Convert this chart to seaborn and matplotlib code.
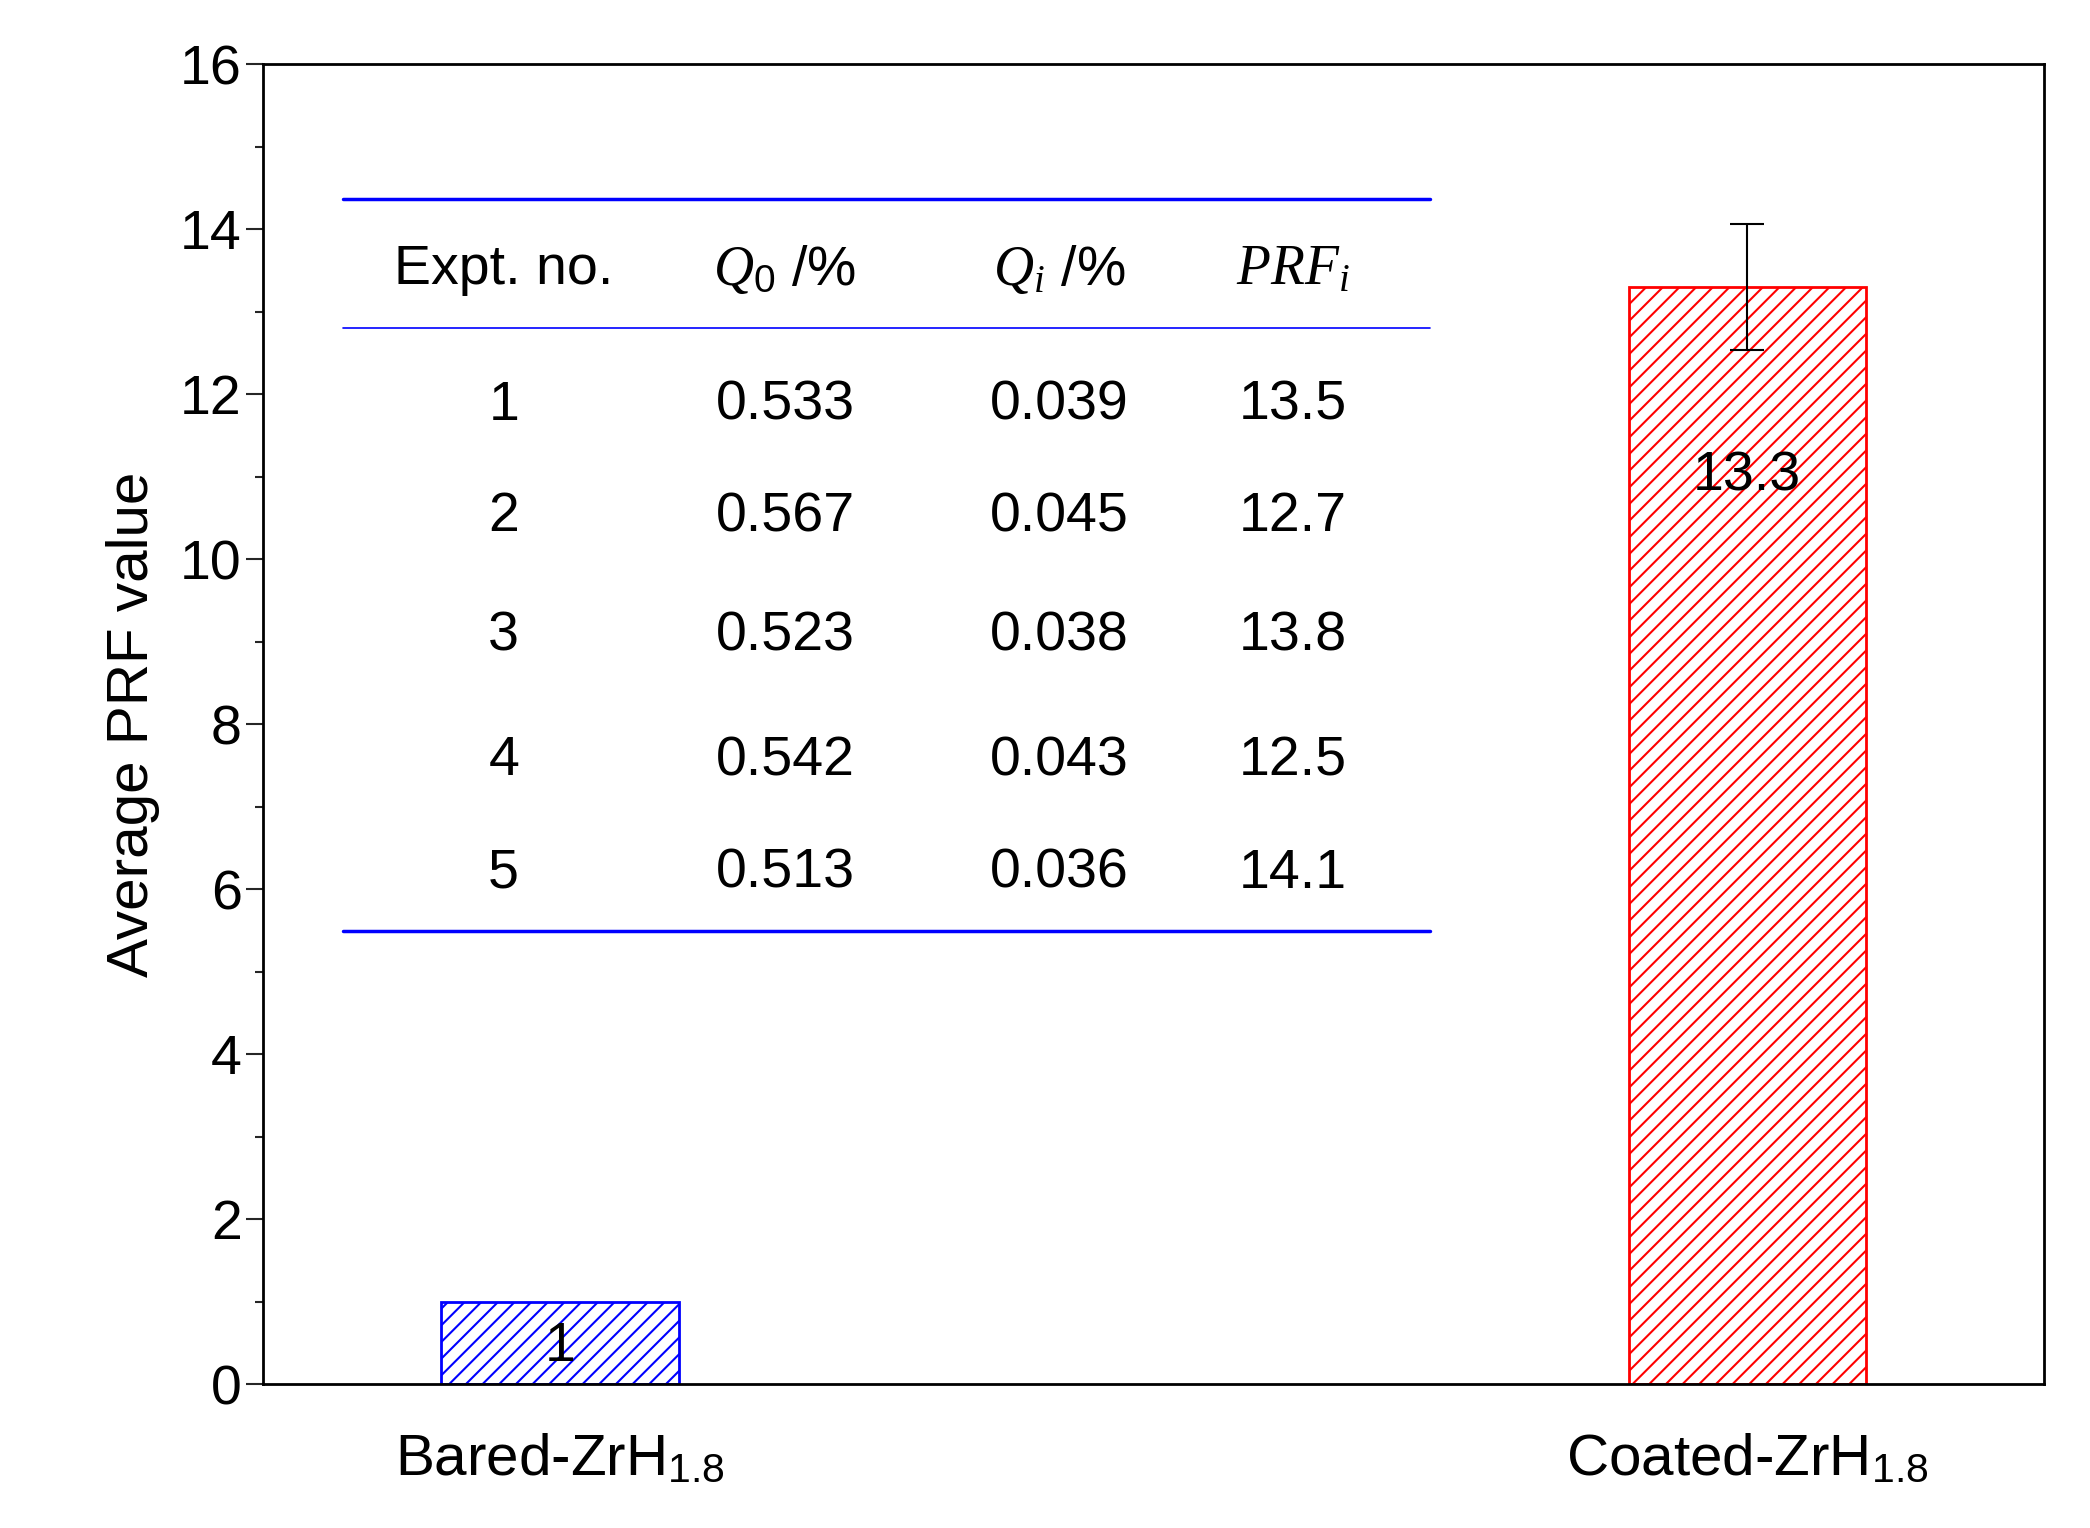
import matplotlib
matplotlib.use("Agg")
import matplotlib.pyplot as plt
import seaborn as sns
import pandas as pd

# bar data
samples = ["Bared-ZrH$_{1.8}$", "Coated-ZrH$_{1.8}$"]
avg_prf = [1.0, 13.3]
prf_err = [0.0, 0.76]
bar_labels = ["1", "13.3"]
bar_colors = ["#0000ff", "#ff0000"]

# inset table data
table_header = ["Expt. no.", "$Q_0$ /%", "$Q_i$ /%", "$PRF_i$"]
expt_no = ["1", "2", "3", "4", "5"]
q0 = ["0.533", "0.567", "0.523", "0.542", "0.513"]
qi = ["0.039", "0.045", "0.038", "0.043", "0.036"]
prf_i = ["13.5", "12.7", "13.8", "12.5", "14.1"]

sns.set_style("ticks")
plt.rcParams['font.family'] = ['Liberation Sans', 'DejaVu Sans']
plt.rcParams['mathtext.fontset'] = 'custom'
plt.rcParams['mathtext.it'] = 'Liberation Serif:italic'
plt.rcParams['mathtext.rm'] = 'Liberation Sans'
plt.rcParams['hatch.linewidth'] = 1.5
plt.rcParams['text.color'] = 'black'

fig = plt.figure(figsize=(20.9, 15.28), dpi=100)
ax = fig.add_axes([0.126, 0.094, 0.852, 0.864])

df = pd.DataFrame({"sample": samples, "prf": avg_prf})
sns.barplot(data=df, x="sample", y="prf", ax=ax, width=0.2,
            color="white", errorbar=None)
for patch, c in zip(ax.patches, bar_colors):
    patch.set_facecolor("white")
    patch.set_edgecolor(c)
    patch.set_hatch("//")
    patch.set_linewidth(2)

ax.errorbar([1], [avg_prf[1]], yerr=[prf_err[1]], fmt="none", ecolor="black",
            elinewidth=1.5, capsize=12, capthick=1.5)

ax.text(0, 0.45, bar_labels[0], ha="center", va="center", fontsize=40)
ax.text(1, 11.0, bar_labels[1], ha="center", va="center", fontsize=40)

ax.set_xlim(-0.25, 1.25)
ax.set_ylim(0, 16)
ax.set_yticks(range(0, 17, 2))
ax.set_yticks(range(0, 17, 1), minor=True)
ax.tick_params(axis="y", which="major", length=12, width=1.5, labelsize=40,
               direction="out", labelcolor="black")
ax.tick_params(axis="y", which="minor", length=6, width=1.5, direction="out")
ax.tick_params(axis="x", length=0, labelsize=42, pad=35, labelcolor="black")
ax.set_xlabel("")
ax.set_ylabel("Average PRF value", fontsize=42, labelpad=14, color="black")
for s in ax.spines.values():
    s.set_linewidth(2)
    s.set_color("black")
    s.set_visible(True)

# inset table
tr = ax.get_yaxis_transform()
x0, x1 = 0.045, 0.655
ax.plot([x0, x1], [14.37, 14.37], color="#0000ff", lw=2.5, transform=tr)
ax.plot([x0, x1], [12.8, 12.8], color="#0000ff", lw=1.2, transform=tr)
ax.plot([x0, x1], [5.49, 5.49], color="#0000ff", lw=2.5, transform=tr)

col_x = [0.135, 0.293, 0.447, 0.578]
for cx, h in zip(col_x, table_header):
    ax.text(cx, 13.5, h, ha="center", va="center", fontsize=40, transform=tr)
row_y = [11.86, 10.51, 9.06, 7.55, 6.19]
for i, y in enumerate(row_y):
    for cx, val in zip(col_x, [expt_no[i], q0[i], qi[i], prf_i[i]]):
        ax.text(cx, y, val, ha="center", va="center", fontsize=40, transform=tr)

fig.savefig("out.png", dpi=100)
